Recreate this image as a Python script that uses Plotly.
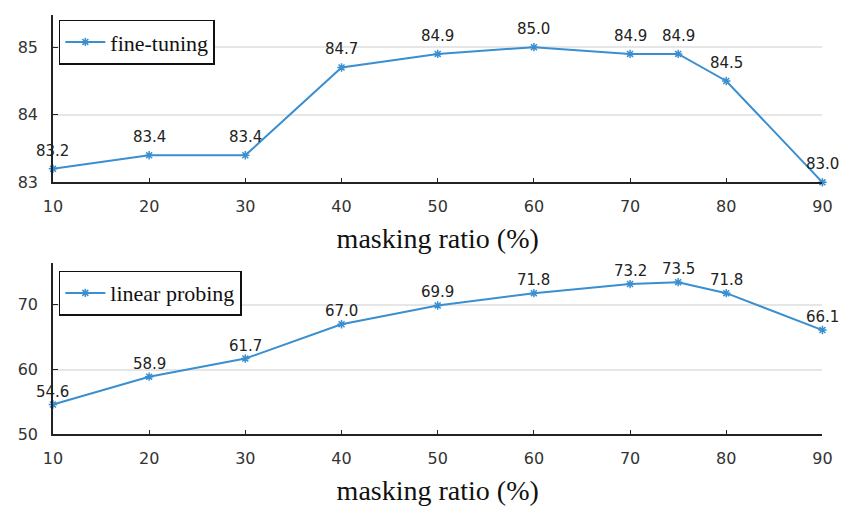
import plotly.graph_objects as go

# Masking ratio sweep
ratios = [10, 20, 30, 40, 50, 60, 70, 75, 80, 90]
fine_tuning = [83.2, 83.4, 83.4, 84.7, 84.9, 85.0, 84.9, 84.9, 84.5, 83.0]
linear_probing = [54.6, 58.9, 61.7, 67.0, 69.9, 71.8, 73.2, 73.5, 71.8, 66.1]

x_ticks = [10, 20, 30, 40, 50, 60, 70, 80, 90]
ft_ticks = [83, 84, 85]
lp_ticks = [50, 60, 70]

LINE = "#3a8fd0"
TICK_FONT = dict(family="DejaVu Sans", size=16, color="#333333")
LABEL_FONT = dict(family="DejaVu Sans", size=15, color="#222222")
SERIF = "Liberation Serif"

fig = go.Figure()

panels = [
    ("fine-tuning", fine_tuning, "x", "y", "legend", 18),
    ("linear probing", linear_probing, "x2", "y2", "legend2", 13),
]
for name, vals, xa, ya, lg, lift in panels:
    fig.add_trace(go.Scatter(
        x=ratios, y=vals, name=name, mode="lines+markers",
        line=dict(color=LINE, width=2),
        marker=dict(symbol="asterisk-open", size=7, color=LINE, line=dict(color=LINE, width=1.5)),
        xaxis=xa, yaxis=ya, legend=lg, cliponaxis=False,
    ))
    # value labels above each point
    for xv, yv in zip(ratios, vals):
        fig.add_annotation(
            x=xv, y=yv, xref=xa, yref=ya, text=f"{yv:.1f}", showarrow=False,
            yshift=lift, font=LABEL_FONT,
        )

xdom = [44 / 851, 832 / 851]
common_x = dict(
    range=[10, 90], tickvals=x_ticks, ticks="inside", ticklen=5, tickcolor="#222",
    showline=True, linecolor="#222", linewidth=1.5, showgrid=False, zeroline=False,
    tickfont=TICK_FONT, domain=xdom, ticklabelstandoff=9,
    title=dict(text="masking ratio (%)", font=dict(family=SERIF, size=28, color="#111"), standoff=13),
)
common_y = dict(
    ticks="inside", ticklen=5, tickcolor="#222", showline=True, linecolor="#222", linewidth=1.5,
    showgrid=True, gridcolor="#e6e6e6", gridwidth=1.5, zeroline=False, tickfont=TICK_FONT,
    ticklabelstandoff=10,
)
legend_style = dict(
    xanchor="left", yanchor="top", bordercolor="#111", borderwidth=1.5, bgcolor="white",
    font=dict(family=SERIF, size=22, color="#111"), itemwidth=40,
)

fig.update_layout(
    width=851, height=509,
    margin=dict(l=0, r=0, t=0, b=0),
    paper_bgcolor="white", plot_bgcolor="white",
    xaxis=dict(common_x, anchor="y"),
    yaxis=dict(common_y, range=[83, 85.48], tickvals=ft_ticks, domain=[1 - 186 / 509, 1 - 15 / 509], anchor="x"),
    xaxis2=dict(common_x, anchor="y2"),
    yaxis2=dict(common_y, range=[50, 76.5], tickvals=lp_ticks, domain=[1 - 443 / 509, 1 - 268 / 509], anchor="x2"),
    legend=dict(legend_style, x=50 / 851, y=1 - 20 / 509),
    legend2=dict(legend_style, x=50 / 851, y=1 - 276 / 509),
    showlegend=True,
)

fig.write_html("out.html")
